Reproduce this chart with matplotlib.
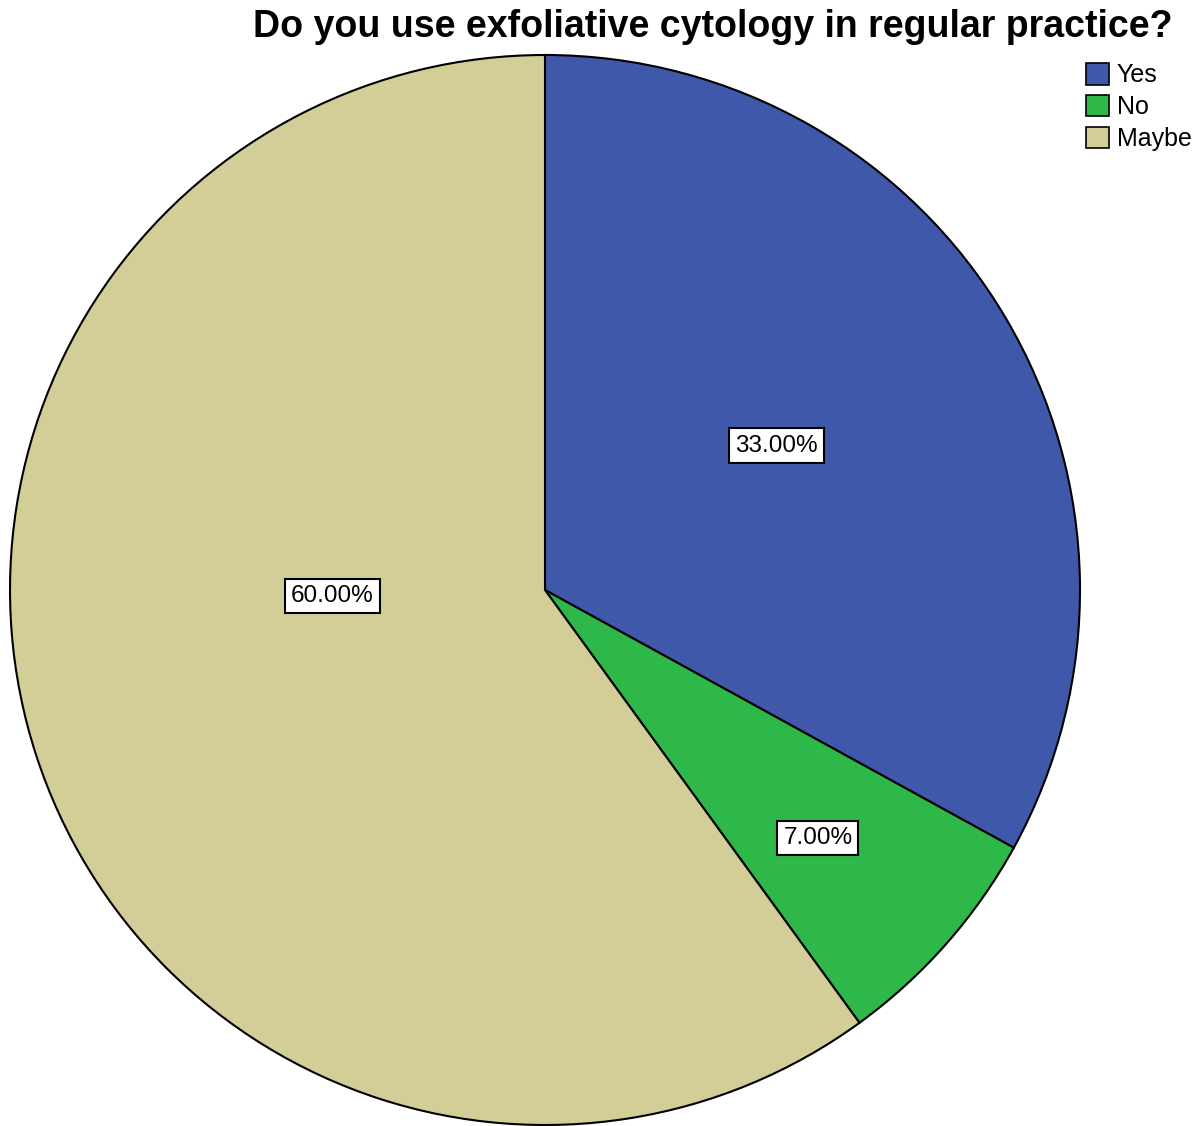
import matplotlib.pyplot as plt
from matplotlib.patches import Patch

plt.rcParams['font.family'] = ['Liberation Sans', 'DejaVu Sans']

categories = ["Yes", "No", "Maybe"]
shares = [33.0, 7.0, 60.0]
colors = ["#3F58AA", "#2EB84A", "#D3CD97"]
# label anchor points in pie units (radius = 1)
label_pos = [(0.433, 0.27), (0.51, -0.463), (-0.398, -0.011)]

fig = plt.figure(figsize=(11.99, 11.26), dpi=100)
W, H = 1199, 1126
cx, cy, r = 545, 590, 535
ax = fig.add_axes([(cx - r) / W, (H - cy - r) / H, 2 * r / W, 2 * r / H])

wedges, _ = ax.pie(shares, colors=colors, startangle=90, counterclock=False,
                   radius=1, wedgeprops=dict(edgecolor="black", linewidth=1.5))
ax.set_xlim(-1, 1)
ax.set_ylim(-1, 1)
ax.set_aspect("equal")
ax.axis("off")

for val, (x, y) in zip(shares, label_pos):
    ax.text(x, y, f"{val:.2f}%", ha="center", va="center", fontsize=17.5,
            bbox=dict(boxstyle="square,pad=0.25", facecolor="white",
                      edgecolor="black", linewidth=1.5))

fig.text(0.978, 0.976, "Do you use exfoliative cytology in regular practice?",
         ha="right", va="center", fontsize=27, fontweight="bold")

handles = [Patch(facecolor=c, edgecolor="black", linewidth=1.2) for c in colors]
fig.legend(handles, categories, loc="upper right", bbox_to_anchor=(0.994, 0.944),
           frameon=False, fontsize=18, handlelength=0.95, handleheight=0.95,
           handletextpad=0.3, labelspacing=0.3, borderaxespad=0, borderpad=0)

fig.savefig("out.png", dpi=100)
